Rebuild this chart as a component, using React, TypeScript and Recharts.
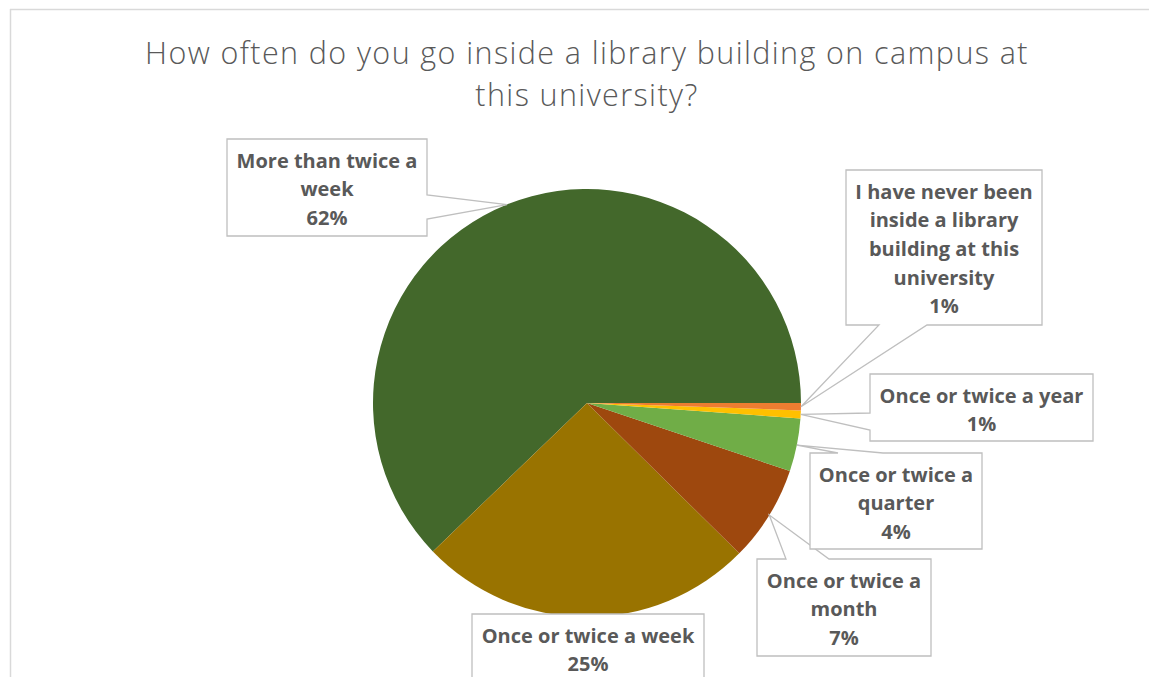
import { PieChart, Pie, Cell } from 'recharts'

// Survey answers, share of respondents (%)
const categories = [
  'More than twice a week',
  'Once or twice a week',
  'Once or twice a month',
  'Once or twice a quarter',
  'Once or twice a year',
  'I have never been inside a library building at this university',
]
const shares = [62.2, 25.4, 7.25, 4.0, 0.6, 0.55]
const labelLines = [
  ['More than twice a', 'week'],
  ['Once or twice a week'],
  ['Once or twice a', 'month'],
  ['Once or twice a', 'quarter'],
  ['Once or twice a year'],
  ['I have never been', 'inside a library', 'building at this', 'university'],
]
const colors = ['#43682B', '#997300', '#9E480E', '#70AD47', '#FFC000', '#ED7D31']
const titleLines = ['How often do you go inside a library building on campus at', 'this university?']

// callout boxes: x, y, w, h, side the pointer leaves from, and the two attach points on that side
type Callout = { x: number; y: number; w: number; h: number; side: 'left' | 'right' | 'top' | 'bottom' | 'none'; a: number; b: number }
const callouts: Callout[] = [
  { x: 227, y: 139, w: 200, h: 97, side: 'right', a: 195, b: 219 },
  { x: 472, y: 614, w: 232, h: 80, side: 'none', a: 0, b: 0 },
  { x: 757, y: 559, w: 174, h: 97, side: 'top', a: 786, b: 829 },
  { x: 810, y: 453, w: 172, h: 96, side: 'top', a: 838, b: 883 },
  { x: 870, y: 374, w: 223, h: 67, side: 'left', a: 413, b: 430 },
  { x: 846, y: 170, w: 196, h: 155, side: 'bottom', a: 879, b: 927 },
]

const data = categories.map((name, i) => ({ name, value: shares[i] }))

const RADIAN = Math.PI / 180
const FONT = '"Open Sans", Lato, sans-serif'

function calloutPath(c: Callout, tx: number, ty: number) {
  const { x, y, w, h } = c
  const r = x + w
  const btm = y + h
  const pts: [number, number][] = [[x, y]]
  if (c.side === 'top') pts.push([c.a, y], [tx, ty], [c.b, y])
  pts.push([r, y])
  if (c.side === 'right') pts.push([r, c.a], [tx, ty], [r, c.b])
  pts.push([r, btm])
  if (c.side === 'bottom') pts.push([c.b, btm], [tx, ty], [c.a, btm])
  pts.push([x, btm])
  if (c.side === 'left') pts.push([x, c.b], [tx, ty], [x, c.a])
  return 'M' + pts.map((p) => p.join(',')).join('L') + 'Z'
}

function renderLabel(props: any) {
  const { cx, cy, midAngle, outerRadius, index, value } = props
  const c = callouts[index]
  const tx = cx + outerRadius * Math.cos(-midAngle * RADIAN)
  const ty = cy + outerRadius * Math.sin(-midAngle * RADIAN)
  const lines = [...labelLines[index], `${Math.round(value)}%`]
  const mid = c.x + c.w / 2
  return (
    <g key={`callout-${index}`}>
      <path d={calloutPath(c, tx, ty)} fill="#fff" stroke="#BFBFBF" strokeWidth={1.3} />
      <text
        x={mid}
        y={c.y + 28.5}
        textAnchor="middle"
        fill="#595959"
        fontFamily={FONT}
        fontWeight={700}
        fontSize={20}
      >
        {lines.map((t, j) => (
          <tspan key={j} x={mid} dy={j === 0 ? 0 : 28.7}>
            {t}
          </tspan>
        ))}
      </text>
    </g>
  )
}

export default function App() {
  return (
    <div style={{ position: 'fixed', left: 0, top: 0, width: 1149, height: 677, background: '#fff' }}>
      <PieChart width={1149} height={677} margin={{ top: 0, right: 0, bottom: 0, left: 0 }}>
        <line x1={10} y1={9.5} x2={1149} y2={9.5} stroke="#D9D9D9" strokeWidth={1.5} />
        <line x1={10.5} y1={9} x2={10.5} y2={677} stroke="#D9D9D9" strokeWidth={1.5} />
        <text
          x={587}
          y={64}
          textAnchor="middle"
          fill="#595959"
          fontFamily={FONT}
          fontWeight={300}
          fontSize={30.5}
          letterSpacing={1.4}
        >
          {titleLines.map((t, j) => (
            <tspan key={j} x={587} dy={j === 0 ? 0 : 42}>
              {t}
            </tspan>
          ))}
        </text>
        <Pie
          data={data}
          dataKey="value"
          nameKey="name"
          cx={587}
          cy={403}
          outerRadius={214}
          startAngle={0}
          endAngle={360}
          stroke="none"
          label={renderLabel}
          labelLine={false}
          isAnimationActive={false}
        >
          {data.map((d, i) => (
            <Cell key={d.name} fill={colors[i]} />
          ))}
        </Pie>
      </PieChart>
    </div>
  )
}
